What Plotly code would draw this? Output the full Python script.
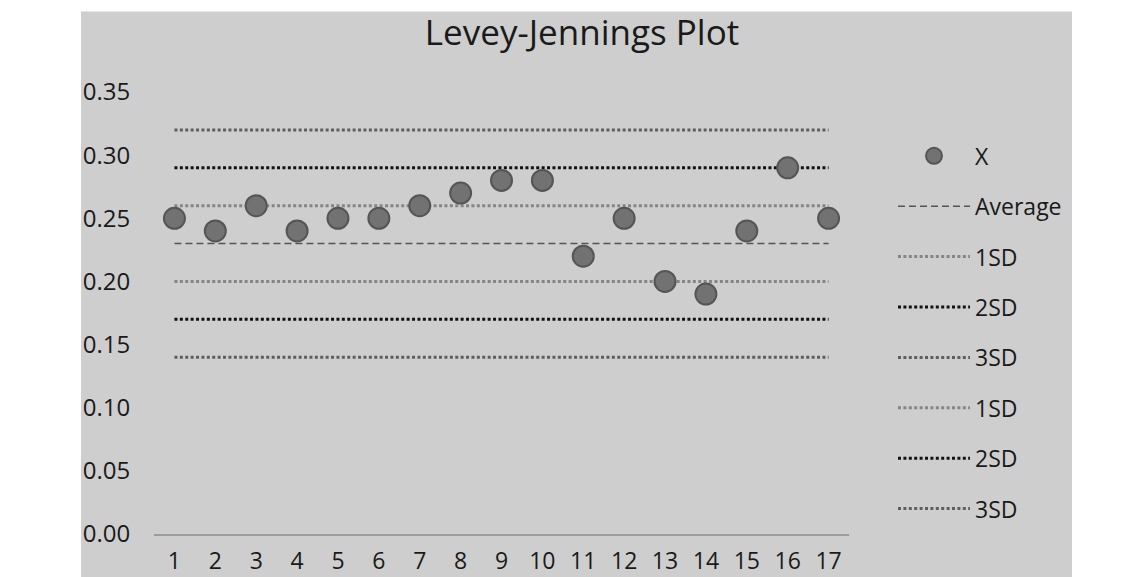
import plotly.graph_objects as go

runs = list(range(1, 18))
x_values = [0.25, 0.24, 0.26, 0.24, 0.25, 0.25, 0.26, 0.27, 0.28, 0.28,
            0.22, 0.25, 0.20, 0.19, 0.24, 0.29, 0.25]

limit_names = ["Average", "1SD", "2SD", "3SD", "1SD", "2SD", "3SD"]
limit_values = [0.23, 0.26, 0.29, 0.32, 0.20, 0.17, 0.14]
limit_colors = ["#555555", "#858585", "#111111", "#5e5e5e", "#858585", "#111111", "#5e5e5e"]
limit_dash = ["7px,4px", "3px,2.4px", "3px,2.4px", "3px,2.4px", "3px,2.4px", "3px,2.4px", "3px,2.4px"]
limit_width = [1.4, 3, 3, 3, 3, 3, 3]

y_ticks = [0.00, 0.05, 0.10, 0.15, 0.20, 0.25, 0.30, 0.35]
y_tick_text = ["0.00", "0.05", "0.10", "0.15", "0.20", "0.25", "0.30", "0.35"]

FONT = "Open Sans"
OFF = 8  # page body margin offset

fig = go.Figure()
for i, (nm, v) in enumerate(zip(limit_names, limit_values)):
    fig.add_trace(go.Scatter(
        x=runs, y=[v] * len(runs), mode="lines", name=nm, legendrank=i + 2,
        legendgroup=f"g{i + 2}",
        line=dict(color=limit_colors[i], dash=limit_dash[i], width=limit_width[i]),
    ))
fig.add_trace(go.Scatter(
    x=runs, y=x_values, mode="markers", name="X", legendrank=1, legendgroup="g1",
    marker=dict(size=21, color="#727272", line=dict(color="#555555", width=2)),
))

W, H = 1135, 577
L, R, T, B = 154 - OFF, 849 - OFF, 91.6 - OFF, 534 - OFF
pw, ph = R - L, B - T

def px_x(p):
    return (p - OFF - L) / pw

def px_y(p):
    return (B - (p - OFF)) / ph

fig.add_shape(type="rect", xref="paper", yref="paper",
              x0=px_x(81), x1=px_x(1072), y0=px_y(600), y1=px_y(11),
              fillcolor="#cecece", line=dict(width=0), layer="below")

fig.update_layout(
    width=W, height=H,
    margin=dict(l=L, r=W - R, t=T, b=H - B, pad=0, autoexpand=False),
    paper_bgcolor="white", plot_bgcolor="rgba(0,0,0,0)",
    font=dict(family=FONT, color="#1a1a1a", size=22),
    title=dict(text="Levey-Jennings Plot", x=(582 - OFF) / W, xanchor="center",
               y=1 - (33 - OFF) / H, yanchor="middle",
               font=dict(family=FONT, size=35, color="#1a1a1a")),
    showlegend=True,
    legend=dict(x=px_x(893), y=px_y(134), xanchor="left", yanchor="top",
                bgcolor="rgba(0,0,0,0)", tracegroupgap=17.5,
                traceorder="grouped", itemwidth=72,
                font=dict(family=FONT, size=23, color="#1a1a1a")),
    xaxis=dict(range=[0.5, 17.5], tickmode="array", tickvals=runs, automargin=False,
               ticktext=[str(r) for r in runs], showgrid=False, zeroline=False,
               showline=True, linecolor="#9c9c9c", linewidth=2,
               ticks="outside", ticklen=5, tickcolor="rgba(0,0,0,0)",
               tickfont=dict(family=FONT, size=23, color="#1a1a1a")),
    yaxis=dict(range=[0, 0.35], tickmode="array", tickvals=y_ticks, ticktext=y_tick_text,
               automargin=False,
               showgrid=False, zeroline=False, showline=False,
               ticks="outside", ticklen=18, tickcolor="rgba(0,0,0,0)",
               tickfont=dict(family=FONT, size=24, color="#1a1a1a")),
)

fig.write_html("out.html")
